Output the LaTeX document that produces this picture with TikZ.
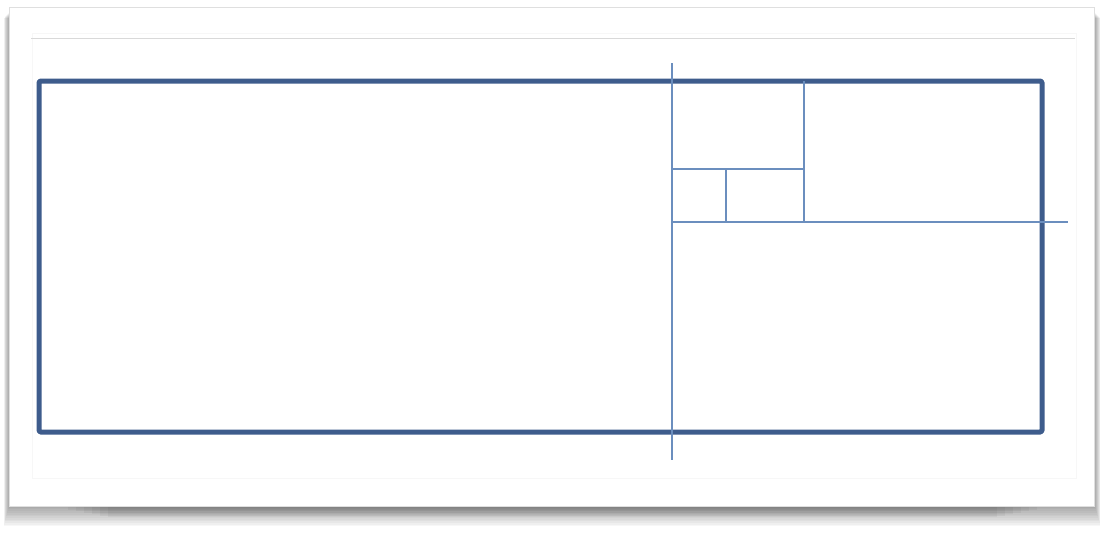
\documentclass[tikz,border=0pt]{standalone}
\definecolor{thickblue}{HTML}{3E5C8C}
\definecolor{thinblue}{HTML}{6B8EBE}
\definecolor{rulegray}{HTML}{D9D9D9}
\begin{document}
\begin{tikzpicture}[x=1pt,y=-1pt,
  frame/.style={draw=thickblue,line width=5pt,line join=round,rounded corners=1.5pt},
  divider/.style={draw=thinblue,line width=2pt},
  topline/.style={draw=rulegray,line width=1pt}]
\useasboundingbox (0,0) rectangle (1105,544);
\fill[white] (0,0) rectangle (1105,544);
% shadow
\foreach \i in {1,...,12}{
  \fill[black,opacity=0.03] (9-0.45*\i,12+0.5*\i) rectangle (1095+0.45*\i,506+1.7*\i);
}
\foreach \i in {1,...,6}{
  \fill[black,opacity=0.04] (60+8*\i,506) rectangle (1045-8*\i,508+1.5*\i);
}
\fill[white] (9,7) rectangle (1094,506);
\draw[gray!25,line width=0.6pt] (9,7) rectangle (1094,506);
\draw[gray!6,line width=0.8pt] (32,33) rectangle (1076,478);
% top rule
\coordinate (tl) at (31,38);
\coordinate (tr) at (1075,38);
\draw[topline] (tl) -- (tr);
% main rectangle
\coordinate (A) at (39,81);
\coordinate (B) at (1042,432);
\draw[frame] (A) rectangle (B);
% dividers
\coordinate (v1t) at (672,63);
\coordinate (v1b) at (672,460);
\coordinate (hl) at (672,222);
\coordinate (hr) at (1068,222);
\coordinate (v2t) at (804,81);
\coordinate (v2b) at (804,222);
\coordinate (h2l) at (672,169);
\coordinate (h2r) at (804,169);
\coordinate (v3t) at (726,169);
\coordinate (v3b) at (726,222);
\draw[divider] (v1t) -- (v1b);
\draw[divider] (hl) -- (hr);
\draw[divider] (v2t) -- (v2b);
\draw[divider] (h2l) -- (h2r);
\draw[divider] (v3t) -- (v3b);
\end{tikzpicture}
\end{document}
